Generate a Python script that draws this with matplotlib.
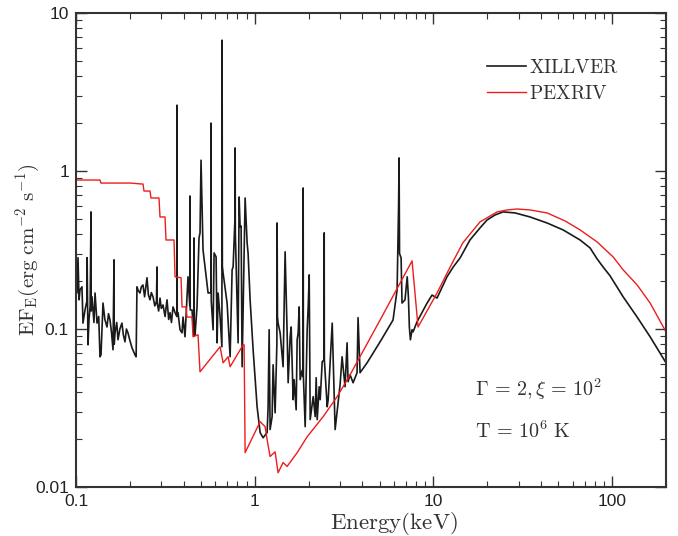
import matplotlib
matplotlib.use("Agg")
import matplotlib.pyplot as plt
from matplotlib.ticker import LogLocator, FixedLocator, FixedFormatter, NullFormatter

plt.rcParams['mathtext.fontset'] = 'cm'

# XILLVER spectrum: (energy keV, EF_E)
xillver_points = [
    (0.100, 0.281), (0.1013, 0.169), (0.1026, 0.283), (0.1040, 0.153), (0.1053, 0.177),
    (0.1080, 0.185), (0.1094, 0.109), (0.1123, 0.132), (0.1150, 0.150), (0.1154, 0.283),
    (0.1167, 0.0794), (0.1182, 0.114), (0.1200, 0.140), (0.1213, 0.551), (0.1216, 0.130),
    (0.1229, 0.160), (0.1260, 0.110), (0.1278, 0.169), (0.1311, 0.109), (0.1340, 0.120),
    (0.1362, 0.0667), (0.1380, 0.0687), (0.1416, 0.146), (0.1450, 0.115), (0.1491, 0.103),
    (0.1520, 0.125), (0.1550, 0.114), (0.1580, 0.095), (0.1611, 0.0739), (0.1632, 0.274),
    (0.1636, 0.0800), (0.1653, 0.0946), (0.1690, 0.110), (0.1718, 0.0855), (0.1760, 0.100),
    (0.1807, 0.109), (0.1840, 0.092), (0.1879, 0.0830), (0.1915, 0.100), (0.1953, 0.0946),
    (0.2000, 0.085), (0.2057, 0.0761), (0.2100, 0.072), (0.2137, 0.0687), (0.2170, 0.0667),
    (0.2193, 0.185), (0.2230, 0.175), (0.2280, 0.169), (0.2320, 0.185), (0.2370, 0.190),
    (0.2420, 0.160), (0.2496, 0.211), (0.2540, 0.165), (0.2594, 0.153), (0.2640, 0.170),
    (0.2697, 0.160), (0.2760, 0.140), (0.2820, 0.150), (0.2839, 0.247), (0.2845, 0.146),
    (0.2900, 0.130), (0.2951, 0.157), (0.3000, 0.135), (0.3068, 0.142), (0.3150, 0.120),
    (0.3230, 0.153), (0.3300, 0.115), (0.3358, 0.127), (0.3420, 0.110), (0.3490, 0.138),
    (0.3581, 0.127), (0.3665, 0.120), (0.3674, 2.61), (0.3684, 0.127), (0.3722, 0.127),
    (0.3819, 0.0989), (0.3919, 0.0946), (0.3970, 0.119), (0.4073, 0.0893), (0.4234, 0.214),
    (0.4330, 0.140), (0.4344, 0.695), (0.4356, 0.132), (0.4458, 0.132), (0.4565, 0.0900),
    (0.4574, 0.377), (0.4590, 0.0919), (0.4634, 0.0919), (0.4755, 0.138), (0.4879, 0.377),
    (0.4942, 0.406), (0.5006, 1.17), (0.5137, 0.317), (0.5483, 0.169), (0.5685, 0.170),
    (0.5699, 2.01), (0.5712, 0.150), (0.5848, 0.0989), (0.5924, 0.303), (0.6079, 0.286),
    (0.6158, 0.0818), (0.6238, 0.169), (0.6401, 0.119), (0.6550, 0.0772), (0.6568, 6.73),
    (0.6590, 0.250), (0.6653, 0.226), (0.7005, 0.146), (0.7282, 0.0667), (0.7472, 0.237),
    (0.7569, 0.247), (0.7750, 0.500), (0.7766, 1.40), (0.7790, 0.400), (0.8072, 0.0818),
    (0.8177, 0.685), (0.8283, 0.443), (0.8390, 0.449), (0.8499, 0.0577), (0.8834, 0.675),
    (0.9065, 0.351), (0.9183, 0.300), (0.9422, 0.153), (0.9794, 0.0739), (1.031, 0.0322),
    (1.072, 0.0221), (1.114, 0.0205), (1.173, 0.0221), (1.188, 0.0322), (1.204, 0.0989),
    (1.219, 0.0231), (1.251, 0.0279), (1.267, 0.0594), (1.300, 0.0295), (1.330, 0.080),
    (1.334, 0.469), (1.340, 0.120), (1.351, 0.109), (1.387, 0.0946), (1.441, 0.0577),
    (1.479, 0.308), (1.518, 0.0946), (1.538, 0.0457), (1.578, 0.0893), (1.599, 0.103),
    (1.640, 0.0357), (1.662, 0.0478), (1.705, 0.0308), (1.727, 0.0855), (1.750, 0.0946),
    (1.772, 0.138), (1.795, 0.0478), (1.842, 0.0548), (1.862, 0.050), (1.866, 0.781),
    (1.872, 0.050), (1.915, 0.0241), (1.965, 0.0989), (1.991, 0.138), (2.017, 0.220),
    (2.043, 0.0267), (2.123, 0.0373), (2.179, 0.0279), (2.207, 0.0492), (2.236, 0.0267),
    (2.294, 0.0431), (2.324, 0.0357), (2.385, 0.0620), (2.443, 0.064), (2.447, 0.406),
    (2.452, 0.064), (2.543, 0.0322), (2.576, 0.0357), (2.713, 0.109), (2.817, 0.0231),
    (3.003, 0.0444), (3.081, 0.0667), (3.202, 0.0431), (3.286, 0.0818), (3.328, 0.0464),
    (3.415, 0.0513), (3.550, 0.0457), (3.737, 0.0529), (3.785, 0.118), (3.884, 0.0529),
    (4.252, 0.0611), (4.838, 0.0772), (5.028, 0.0830), (5.94, 0.114), (6.26, 0.177),
    (6.38, 0.600), (6.42, 1.21), (6.46, 0.300), (6.59, 0.282), (6.67, 0.146),
    (6.93, 0.153), (7.13, 0.214), (7.24, 0.160), (7.33, 0.103), (7.43, 0.0855),
    (7.59, 0.0989), (7.69, 0.0960), (8.09, 0.111), (9.21, 0.146), (9.82, 0.164),
    (10.47, 0.157), (11.9, 0.214), (12.9, 0.247), (14.1, 0.282), (16.0, 0.366),
    (18.2, 0.436), (19.95, 0.490), (22.1, 0.527), (24.5, 0.551), (28.6, 0.543),
    (34.7, 0.512), (43.2, 0.469), (53.1, 0.424), (66.1, 0.366), (75.2, 0.326),
    (82.3, 0.278), (88.9, 0.247), (97.3, 0.217), (115.1, 0.160), (137.9, 0.119),
    (163.0, 0.0893), (200.0, 0.0611),
]

# PEXRIV spectrum: (energy keV, EF_E)
pexriv_points = [
    (0.100, 0.877), (0.1362, 0.877), (0.1380, 0.839), (0.2030, 0.839), (0.2310, 0.828),
    (0.2370, 0.828), (0.2401, 0.747), (0.2594, 0.747), (0.2628, 0.675), (0.2913, 0.675),
    (0.2951, 0.512), (0.3148, 0.512), (0.3189, 0.366), (0.3535, 0.366), (0.3581, 0.214),
    (0.3870, 0.211), (0.3919, 0.138), (0.4126, 0.138), (0.4180, 0.119), (0.4458, 0.119),
    (0.4516, 0.0893), (0.4816, 0.0919), (0.4942, 0.0536), (0.6401, 0.0772), (0.6653, 0.0611),
    (0.7096, 0.0667), (0.7282, 0.0577), (0.8609, 0.0794), (0.8721, 0.0794), (0.8834, 0.0165),
    (1.072, 0.0259), (1.143, 0.0241), (1.173, 0.0199), (1.219, 0.0156), (1.300, 0.0167),
    (1.351, 0.0123), (1.441, 0.0143), (1.518, 0.0135), (1.727, 0.0165), (1.965, 0.0208),
    (2.416, 0.0279), (2.890, 0.0373), (3.415, 0.0513), (5.028, 0.114), (7.59, 0.270),
    (8.20, 0.103), (10.47, 0.169), (12.4, 0.247), (14.6, 0.351), (18.2, 0.476),
    (22.7, 0.551), (25.8, 0.567), (29.4, 0.575), (34.7, 0.567), (43.2, 0.543),
    (54.5, 0.483), (66.1, 0.424), (82.3, 0.356), (101.2, 0.286), (115.1, 0.237),
    (137.9, 0.190), (163.0, 0.146), (200.0, 0.096),
]

xil_E = [p[0] for p in xillver_points]
xil_F = [p[1] for p in xillver_points]
pex_E = [p[0] for p in pexriv_points]
pex_F = [p[1] for p in pexriv_points]

x_ticks = [0.1, 1, 10, 100]
x_labels = ['0.1', '1', '10', '100']
y_ticks = [0.01, 0.1, 1, 10]
y_labels = ['0.01', '0.1', '1', '10']

fig = plt.figure(figsize=(6.78, 5.36), dpi=100)
ax = fig.add_axes([0.1121, 0.0914, 0.8702, 0.8843])

ax.plot(xil_E, xil_F, color='#1a1a1a', lw=1.2, label='XILLVER')
ax.plot(pex_E, pex_F, color='#ee1c1c', lw=1.0, label='PEXRIV')

ax.set_xscale('log')
ax.set_yscale('log')
ax.set_xlim(0.1, 200)
ax.set_ylim(0.01, 10)

ax.xaxis.set_major_locator(FixedLocator(x_ticks))
ax.xaxis.set_major_formatter(FixedFormatter(x_labels))
ax.yaxis.set_major_locator(FixedLocator(y_ticks))
ax.yaxis.set_major_formatter(FixedFormatter(y_labels))
ax.xaxis.set_minor_locator(LogLocator(base=10, subs=range(2, 10), numticks=20))
ax.yaxis.set_minor_locator(LogLocator(base=10, subs=range(2, 10), numticks=20))
ax.xaxis.set_minor_formatter(NullFormatter())
ax.yaxis.set_minor_formatter(NullFormatter())

ax.tick_params(which='both', direction='in', top=True, right=True, color='#333333')
ax.tick_params(which='major', length=8, width=1.0, labelsize=12.5, pad=5)
ax.tick_params(which='minor', length=4, width=0.8)
for lab in ax.get_xticklabels() + ax.get_yticklabels():
    lab.set_fontfamily('Liberation Sans')
    lab.set_color('#222222')
for s in ax.spines.values():
    s.set_linewidth(1.5)
    s.set_color('#333333')

ax.set_xlabel(r'$\mathrm{Energy(keV)}$', fontsize=16.5, color='#333333', va='center')
ax.xaxis.set_label_coords(0.539, -0.076)
ax.set_ylabel(r'$\mathrm{EF_E(erg\ cm^{-2}\ s^{-1})}$', fontsize=15, color='#333333', va='center')
ax.yaxis.set_label_coords(-0.081, 0.5)

leg = ax.legend(loc='upper left', bbox_to_anchor=(0.667, 0.942), frameon=False,
                fontsize=14, handlelength=2.0, handletextpad=0.15, labelspacing=0.35)
for t in leg.get_texts():
    t.set_text(r'$\mathrm{' + t.get_text() + '}$')
    t.set_color('#333333')

ax.text(0.677, 0.207, r'$\Gamma\,=\,2,\xi\,=\,10^2$', transform=ax.transAxes, fontsize=14.5,
        color='#333333', va='center')
ax.text(0.677, 0.118, r'$\mathrm{T}\,=\,10^6\ \mathrm{K}$', transform=ax.transAxes, fontsize=14.5,
        color='#333333', va='center')

fig.savefig('out.png', dpi=100)
